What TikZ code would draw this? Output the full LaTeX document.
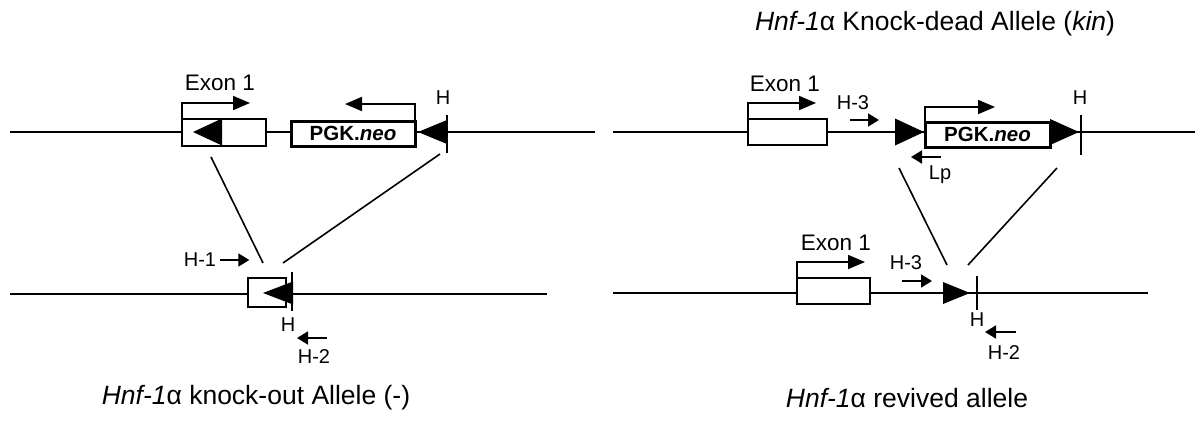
\documentclass[tikz,border=0pt]{standalone}
\usepackage{fontspec}
\setmainfont{Liberation Sans}
\usetikzlibrary{arrows.meta,shapes.geometric}

\begin{document}
\begin{tikzpicture}[x=1pt, y=-1pt,
    dna/.style={line width=1.8pt},
    exon/.style={draw, fill=white, line width=1.6pt, inner sep=0pt, outer sep=0pt},
    neo/.style={draw, fill=white, line width=3pt, inner sep=0pt, outer sep=0pt, font=\fontsize{20.5}{20.5}\selectfont\bfseries},
    loxr/.style={isosceles triangle, isosceles triangle stretches=true, fill=black, inner sep=0pt, outer sep=0pt, minimum width=27pt, minimum height=29pt},
    loxl/.style={loxr, shape border rotate=180},
    tss/.style={line width=1.8pt, -{Triangle[length=17pt,width=14pt]}},
    primer/.style={line width=1.8pt, -{Triangle[length=11pt,width=13pt]}},
    lbl/.style={font=\fontsize{22.5}{22.5}\selectfont, inner sep=0pt},
    small/.style={font=\fontsize{20}{20}\selectfont, inner sep=0pt},
    captxt/.style={font=\fontsize{26.5}{26.5}\selectfont, inner sep=0pt},
    xover/.style={line width=1.6pt},
    site/.style={line width=1.8pt},
]
\useasboundingbox (0,0) rectangle (1195,423);

\coordinate (koW) at (10,132);
\coordinate (koE) at (595,132);
\draw[dna] (koW) -- (koE);
\node[exon, minimum width=84pt, minimum height=27pt] (exA) at (224,132.5) {};
\node[loxl, anchor=apex] (tA) at (193,132) {};
\node[neo, minimum width=124pt, minimum height=25pt] (neoA) at (353,133.5) {PGK.\textit{neo}};
\node[loxl, anchor=apex, minimum width=24pt] (tB) at (418,132) {};
\draw[site] (447,115) -- (447,153);
\node[small] (hA) at (443,98) {H};
\node[lbl] (exLA) at (220,83) {Exon 1};
\draw[tss] (exA.north west) -- ++(0,-16) -- ++(68,0);
\draw[tss] (neoA.north east) -- ++(0,-17) -- ++(-70,0);

\coordinate (kobW) at (10,294);
\coordinate (kobE) at (547,294);
\draw[dna] (kobW) -- (kobE);
\node[exon, minimum width=38pt, minimum height=29pt] (koBox) at (267,292.5) {};
\node[loxl, anchor=apex, minimum width=23pt, minimum height=30pt] (tC) at (263,293) {};
\draw[site] (292,272) -- (292,311);
\node[small] (hB) at (288,325) {H};
\node[small] (h1) at (200,260) {H-1};
\draw[primer] ([xshift=4pt]h1.east) -- ++(29,0);
\node[small] (h2A) at (314,357) {H-2};
\draw[primer] (327,338) -- (297,338);

\coordinate (xA1) at (211,157);
\coordinate (xA2) at (263,263);
\coordinate (xB1) at (440,154);
\coordinate (xB2) at (283,263);
\draw[xover] (xA1) -- (xA2);
\draw[xover] (xB1) -- (xB2);

\coordinate (kdW) at (613,132);
\coordinate (kdE) at (1195,132);
\draw[dna] (kdW) -- (kdE);
\node[exon, minimum width=79pt, minimum height=26pt] (exB) at (787.5,132) {};
\node[lbl] (exLB) at (785,84) {Exon 1};
\draw[tss] (exB.north west) -- ++(0,-16) -- ++(68,0);
\node[small] (h3A) at (853,103) {H-3};
\draw[primer] (850,120) -- (879,120);
\node[loxr, anchor=apex] (tD) at (924,132) {};
\node[neo, minimum width=125pt, minimum height=25pt] (neoB) at (987.5,134.5) {PGK.\textit{neo}};
\draw[tss] (neoB.north west) -- ++(0,-15) -- ++(70,0);
\node[loxr, anchor=apex, minimum width=26pt] (tE) at (1079,132) {};
\draw[site] (1081,115) -- (1081,155);
\node[small] (hC) at (1080,98) {H};
\draw[primer] (941,157) -- (911,157);
\node[small] (lp) at (940,175) {Lp};

\coordinate (xC1) at (899,168);
\coordinate (xC2) at (947,265);
\coordinate (xD1) at (1057,168);
\coordinate (xD2) at (968,265);
\draw[xover] (xC1) -- (xC2);
\draw[xover] (xD1) -- (xD2);

\coordinate (rvW) at (613,293);
\coordinate (rvE) at (1148,293);
\draw[dna] (rvW) -- (rvE);
\node[exon, minimum width=73pt, minimum height=26pt] (exC) at (833.5,291) {};
\node[lbl] (exLC) at (836,243) {Exon 1};
\draw[tss] (exC.north west) -- ++(0,-16) -- ++(68,0);
\node[small] (h3B) at (906,263) {H-3};
\draw[primer] (902,281) -- (932,281);
\node[loxr, anchor=apex, minimum width=22pt, minimum height=27pt] (tF) at (970,293) {};
\draw[site] (977,276) -- (977,310);
\node[small] (hD) at (977,320) {H};
\draw[primer] (1016,332) -- (985,332);
\node[small] (h2B) at (1004,353) {H-2};

\node[captxt] (capKD) at (935,24) {\textit{Hnf-1}α Knock-dead Allele (\textit{kin})};
\node[captxt] (capKO) at (256,398) {\textit{Hnf-1}α knock-out Allele (-)};
\node[captxt] (capRV) at (907,398) {\textit{Hnf-1}α revived allele};
\end{tikzpicture}
\end{document}
